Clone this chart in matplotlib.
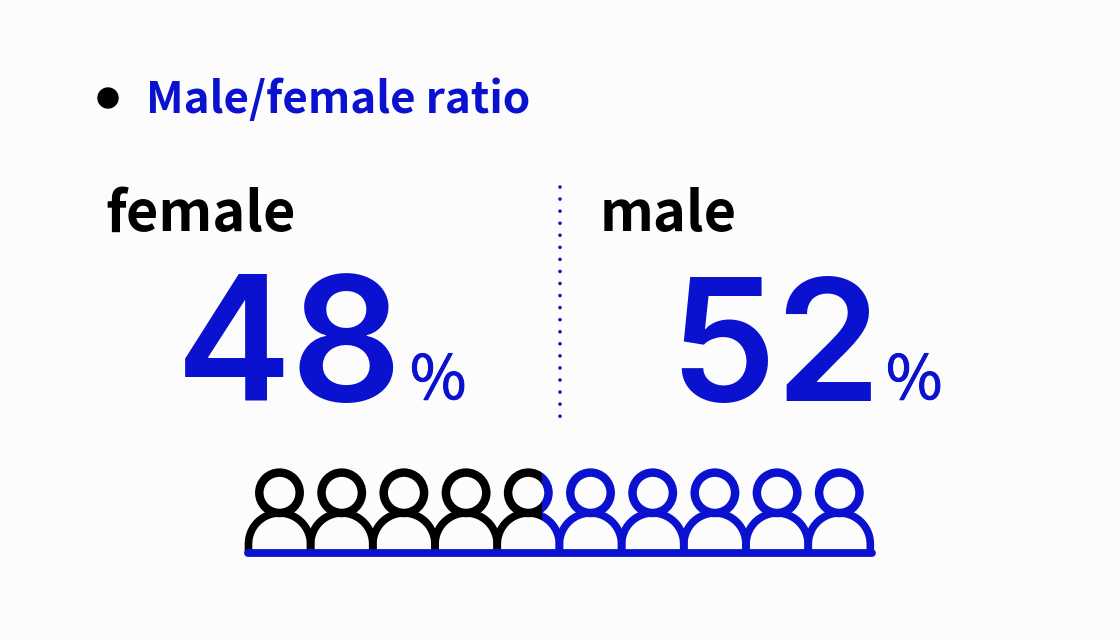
import matplotlib
matplotlib.use("Agg")
import matplotlib.pyplot as plt
import matplotlib.patheffects as pe
import numpy as np
from matplotlib.patches import Circle, PathPatch, Rectangle
from matplotlib.path import Path

BLUE = "#0a12d0"
BLACK = "#000000"
BG = "#fcfcfc"

title = "Male/female ratio"
labels = ["female", "male"]
shares = [48, 52]
icons_total = 10

plt.rcParams["font.family"] = ["Noto Sans CJK KR", "DejaVu Sans"]

fig = plt.figure(figsize=(11.2, 6.4), dpi=100, facecolor=BG)
ax = fig.add_axes([0, 0, 1, 1])
ax.set_xlim(0, 1120)
ax.set_ylim(640, 0)
ax.axis("off")

# header
ax.add_patch(Circle((108, 98), 10, color=BLACK))
ax.text(146, 100, title, color=BLUE, fontsize=31.7, fontweight="bold", va="center", ha="left")

# labels and numbers
ax.text(105, 215, labels[0], color=BLACK, fontsize=40.3, fontweight="bold", va="center", ha="left")
ax.text(600, 215, labels[1], color=BLACK, fontsize=40.3, fontweight="bold", va="center", ha="left")
ax.text(176, 401, str(shares[0]), color=BLUE, fontsize=125, fontweight="semibold", family="Inter", va="baseline", ha="left")
ax.text(669, 401, str(shares[1]), color=BLUE, fontsize=122, fontweight="semibold", family="Inter", va="baseline", ha="left")
for x in (410, 886):
    ax.text(x, 399, "%", color=BLUE, fontsize=44, va="baseline", ha="left",
            path_effects=[pe.withStroke(linewidth=0.7, foreground=BLUE)])

# divider
ax.plot([560, 560], [187, 426], color=BLUE, lw=2.6, linestyle=(0, (0.01, 3.33)), dash_capstyle="round")

# people row, split colour at the share boundary
left, step = 279.5, 62.2
split_x = 542
clip_black = Rectangle((0, 0), split_x, 640, transform=ax.transData)
clip_blue = Rectangle((split_x, 0), 1120 - split_x, 640, transform=ax.transData)
theta = np.linspace(np.pi, 2 * np.pi, 60)
for i in range(icons_total):
    cx = left + i * step
    xs = np.r_[cx - 31, cx + 31 * np.cos(theta), cx + 31]
    ys = np.r_[553, 544 + 31 * np.sin(theta), 553]
    for color, clip in ((BLACK, clip_black), (BLUE, clip_blue)):
        head = Circle((cx, 492.8), 20.2, fill=False, ec=color, lw=6.1)
        body = PathPatch(Path(np.c_[xs, ys]), fill=False, ec=color, lw=5.5)
        ax.add_patch(head)
        ax.add_patch(body)
        head.set_clip_path(clip)
        body.set_clip_path(clip)
ax.plot([248, 872], [553, 553], color=BLUE, lw=5.6, solid_capstyle="round")

fig.savefig("out.png", dpi=100, facecolor=BG)
